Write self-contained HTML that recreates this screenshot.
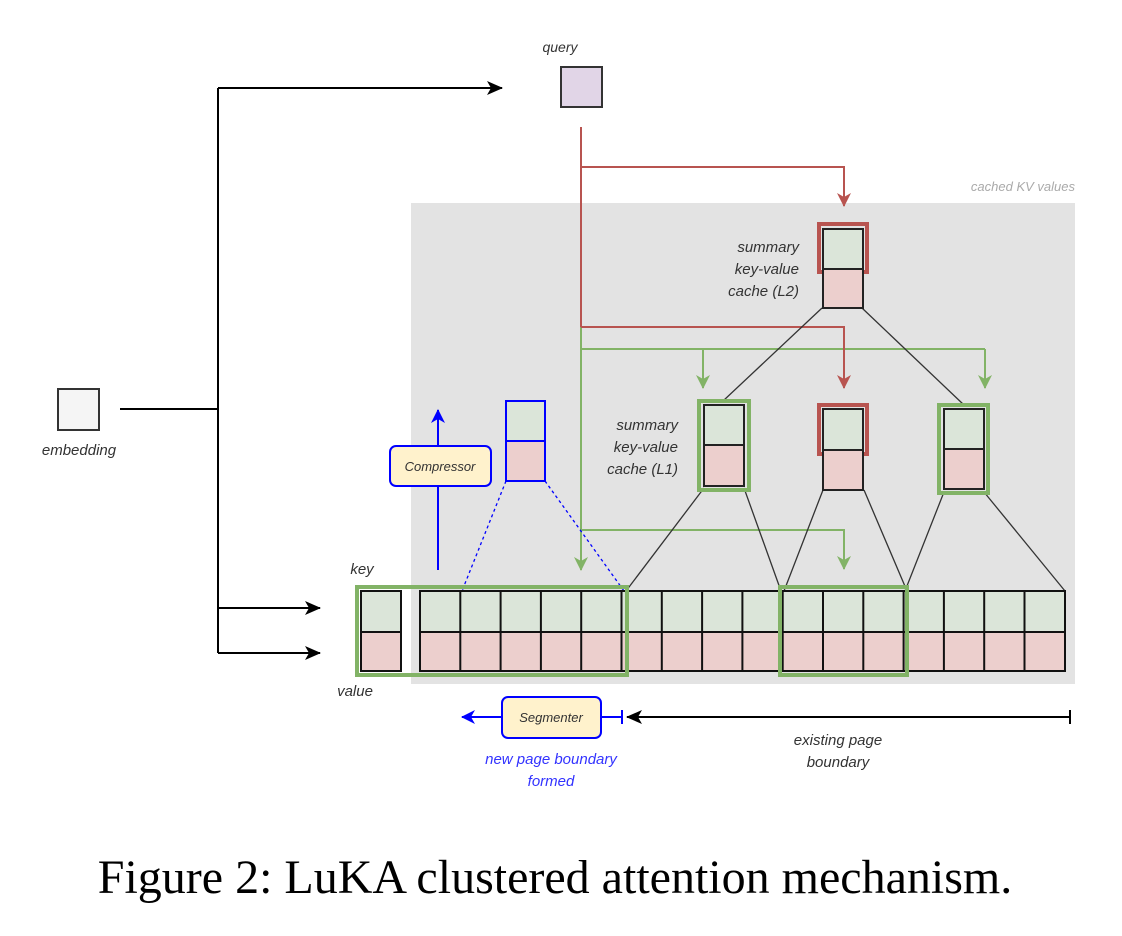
<!DOCTYPE html>
<html><head><meta charset="utf-8"><style>
html,body{margin:0;padding:0;background:#fff;}
svg{display:block;}
text{font-family:"Liberation Sans",sans-serif;font-style:italic;font-size:15px;fill:#333;}
</style></head><body>
<svg width="1122" height="936" viewBox="0 0 1122 936" xmlns="http://www.w3.org/2000/svg">
<defs>
<marker id="ab" markerWidth="16" markerHeight="14" refX="15" refY="7" orient="auto" markerUnits="userSpaceOnUse"><path d="M0,0 L16,7 L0,14 L4,7 z" fill="#000"/></marker>
<marker id="ar" markerWidth="14" markerHeight="14" refX="13" refY="7" orient="auto" markerUnits="userSpaceOnUse"><path d="M0,0 L14,7 L0,14 L4,7 z" fill="#b85450"/></marker>
<marker id="ag" markerWidth="14" markerHeight="14" refX="13" refY="7" orient="auto" markerUnits="userSpaceOnUse"><path d="M0,0 L14,7 L0,14 L4,7 z" fill="#82b366"/></marker>
<marker id="au" markerWidth="14" markerHeight="14" refX="13" refY="7" orient="auto" markerUnits="userSpaceOnUse"><path d="M0,0 L14,7 L0,14 L4,7 z" fill="#0000ff"/></marker>
</defs>
<rect x="411" y="203" width="664" height="481" fill="#e3e3e3"/>
<text x="1075" y="191" text-anchor="end" style="font-size:13px;fill:#aaa">cached KV values</text>

<text x="560" y="52" text-anchor="middle" style="font-size:14px">query</text>
<rect x="561" y="67" width="41" height="40" fill="#e1d5e7" stroke="#333" stroke-width="2"/>
<rect x="58" y="389" width="41" height="41" fill="#f5f5f5" stroke="#333" stroke-width="2"/>
<text x="79" y="455" text-anchor="middle">embedding</text>

<g stroke="#000" stroke-width="2" fill="none">
<line x1="120" y1="409" x2="218" y2="409"/>
<line x1="218" y1="88" x2="218" y2="653"/>
<line x1="218" y1="88" x2="502" y2="88" marker-end="url(#ab)"/>
<line x1="218" y1="608" x2="320" y2="608" marker-end="url(#ab)"/>
<line x1="218" y1="653" x2="320" y2="653" marker-end="url(#ab)"/>
</g>

<g stroke="#82b366" stroke-width="2" fill="none">
<line x1="581" y1="327" x2="581" y2="570" marker-end="url(#ag)"/>
<line x1="581" y1="349" x2="985" y2="349"/>
<line x1="703" y1="349" x2="703" y2="388" marker-end="url(#ag)"/>
<line x1="985" y1="349" x2="985" y2="388" marker-end="url(#ag)"/>
<path d="M581 530 H844 V569" marker-end="url(#ag)"/>
</g>
<g stroke="#b85450" stroke-width="2" fill="none">
<line x1="581" y1="127" x2="581" y2="327"/>
<path d="M581 167 H844 V206" marker-end="url(#ar)"/>
<path d="M581 327 H844 V388" marker-end="url(#ar)"/>
</g>

<g stroke="#333" stroke-width="1.3">
<line x1="822" y1="308" x2="723" y2="401"/>
<line x1="862" y1="308" x2="964" y2="405"/>
<line x1="704" y1="488" x2="626" y2="591"/>
<line x1="744" y1="488" x2="781" y2="591"/>
<line x1="823" y1="490" x2="784" y2="591"/>
<line x1="864" y1="490" x2="907" y2="591"/>
<line x1="944" y1="492" x2="905" y2="591"/>
<line x1="984" y1="492" x2="1065" y2="591"/>
</g>
<g stroke="#0000ff" stroke-width="1.3" stroke-dasharray="3,3">
<line x1="506" y1="481" x2="462" y2="591"/>
<line x1="545" y1="481" x2="624" y2="591"/>
</g>

<rect x="819" y="224" width="48" height="48" fill="none" stroke="#b85450" stroke-width="4"/>
<rect x="823" y="229" width="40" height="40" fill="#dbe5d9" stroke="#222" stroke-width="2"/>
<rect x="823" y="269" width="40" height="39" fill="#eccfcd" stroke="#222" stroke-width="2"/>
<text x="799" y="252" text-anchor="end">summary</text>
<text x="799" y="274" text-anchor="end">key-value</text>
<text x="799" y="296" text-anchor="end">cache (L2)</text>

<rect x="699" y="401" width="50" height="89" fill="none" stroke="#82b366" stroke-width="4"/>
<rect x="704" y="405" width="40" height="40" fill="#dbe5d9" stroke="#222" stroke-width="2"/>
<rect x="704" y="445" width="40" height="41" fill="#eccfcd" stroke="#222" stroke-width="2"/>
<rect x="819" y="405" width="48" height="49" fill="none" stroke="#b85450" stroke-width="4"/>
<rect x="823" y="409" width="40" height="41" fill="#dbe5d9" stroke="#222" stroke-width="2"/>
<rect x="823" y="450" width="40" height="40" fill="#eccfcd" stroke="#222" stroke-width="2"/>
<rect x="939" y="405" width="49" height="88" fill="none" stroke="#82b366" stroke-width="4"/>
<rect x="944" y="409" width="40" height="40" fill="#dbe5d9" stroke="#222" stroke-width="2"/>
<rect x="944" y="449" width="40" height="40" fill="#eccfcd" stroke="#222" stroke-width="2"/>
<text x="678" y="430" text-anchor="end">summary</text>
<text x="678" y="452" text-anchor="end">key-value</text>
<text x="678" y="474" text-anchor="end">cache (L1)</text>

<rect x="506" y="401" width="39" height="40" fill="#dbe5d9" stroke="#0000ff" stroke-width="2"/>
<rect x="506" y="441" width="39" height="40" fill="#eccfcd" stroke="#0000ff" stroke-width="2"/>
<line x1="438" y1="570" x2="438" y2="410" stroke="#0000ff" stroke-width="2" marker-end="url(#au)"/>
<rect x="390" y="446" width="101" height="40" rx="6" fill="#fff2cc" stroke="#0000ff" stroke-width="2"/>
<text x="440" y="471" text-anchor="middle" style="font-size:13px">Compressor</text>

<g stroke="#111" stroke-width="2">
<rect x="361" y="591" width="40" height="41" fill="#dbe5d9"/>
<rect x="361" y="632" width="40" height="39" fill="#eccfcd"/>
</g>
<g stroke="#111" stroke-width="2">
<rect x="420" y="591" width="645" height="41" fill="#dbe5d9"/>
<rect x="420" y="632" width="645" height="39" fill="#eccfcd"/>
<path d="M460.3 591V671M500.6 591V671M540.9 591V671M581.2 591V671M621.5 591V671M661.8 591V671M702.1 591V671M742.4 591V671M782.7 591V671M823 591V671M863.3 591V671M903.6 591V671M943.9 591V671M984.2 591V671M1024.5 591V671" fill="none"/>
</g>
<rect x="357" y="587" width="270" height="88" fill="none" stroke="#82b366" stroke-width="4"/>
<rect x="780" y="587" width="127" height="88" fill="none" stroke="#82b366" stroke-width="4"/>
<text x="362" y="574" text-anchor="middle">key</text>
<text x="355" y="696" text-anchor="middle">value</text>

<line x1="502" y1="717" x2="462" y2="717" stroke="#0000ff" stroke-width="2" marker-end="url(#au)"/>
<line x1="601" y1="717" x2="622" y2="717" stroke="#0000ff" stroke-width="2"/>
<line x1="622" y1="710" x2="622" y2="724" stroke="#0000ff" stroke-width="2"/>
<rect x="502" y="697" width="99" height="41" rx="6" fill="#fff2cc" stroke="#0000ff" stroke-width="2"/>
<text x="551" y="722" text-anchor="middle" style="font-size:13px">Segmenter</text>
<line x1="1070" y1="717" x2="627" y2="717" stroke="#000" stroke-width="2" marker-end="url(#ab)"/>
<line x1="1070" y1="710" x2="1070" y2="724" stroke="#000" stroke-width="2"/>
<text x="551" y="764" text-anchor="middle" style="fill:#3333ff">new page boundary</text>
<text x="551" y="786" text-anchor="middle" style="fill:#3333ff">formed</text>
<text x="838" y="745" text-anchor="middle">existing page</text>
<text x="838" y="767" text-anchor="middle">boundary</text>

<text x="555" y="893" text-anchor="middle" style="font-family:'Liberation Serif',serif;font-style:normal;font-size:48px;fill:#000">Figure 2: LuKA clustered attention mechanism.</text>
</svg>
</body></html>
